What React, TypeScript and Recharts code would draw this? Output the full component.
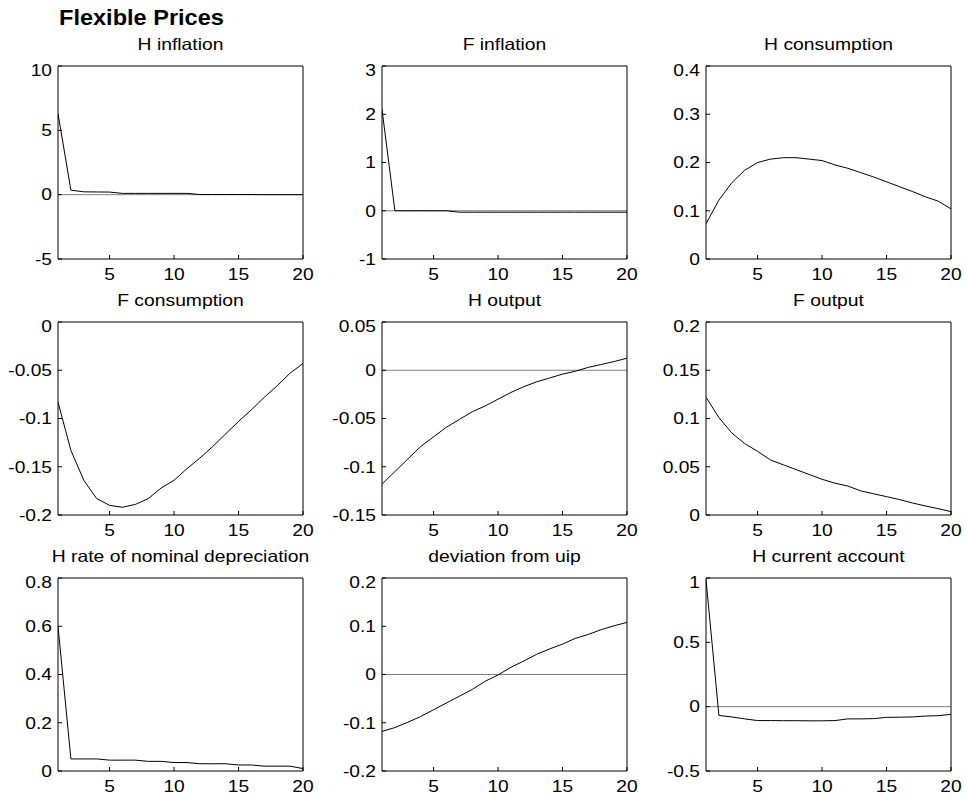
import { LineChart, Line, XAxis, YAxis, ReferenceLine } from "recharts";

// impulse responses, periods 1..20
const periods = [1, 2, 3, 4, 5, 6, 7, 8, 9, 10, 11, 12, 13, 14, 15, 16, 17, 18, 19, 20];
const xTicks = [5, 10, 15, 20];

const hInflation = [6.3, 0.35, 0.22, 0.21, 0.2, 0.1, 0.1, 0.1, 0.1, 0.1, 0.1, 0.01, 0.01, 0.01, 0.01, 0.01, 0, 0, 0, 0];
const fInflation = [2.1, 0, 0, 0, 0, 0, -0.03, -0.03, -0.03, -0.03, -0.03, -0.03, -0.03, -0.03, -0.03, -0.03, -0.03, -0.03, -0.03, -0.03];
const hConsumption = [0.073, 0.122, 0.158, 0.184, 0.2, 0.207, 0.21, 0.21, 0.207, 0.204, 0.195, 0.188, 0.179, 0.17, 0.16, 0.15, 0.14, 0.129, 0.12, 0.104];
const fConsumption = [-0.083, -0.133, -0.164, -0.183, -0.19, -0.192, -0.189, -0.183, -0.172, -0.164, -0.152, -0.141, -0.129, -0.116, -0.103, -0.091, -0.078, -0.066, -0.053, -0.043];
const hOutput = [-0.118, -0.105, -0.092, -0.079, -0.069, -0.059, -0.051, -0.043, -0.037, -0.03, -0.023, -0.017, -0.012, -0.008, -0.004, -0.001, 0.003, 0.006, 0.009, 0.0125];
const fOutput = [0.122, 0.101, 0.085, 0.074, 0.066, 0.057, 0.052, 0.047, 0.042, 0.037, 0.033, 0.03, 0.025, 0.022, 0.019, 0.016, 0.0125, 0.0094, 0.0066, 0.0035];
const hDepreciation = [0.6, 0.05, 0.05, 0.05, 0.045, 0.045, 0.045, 0.04, 0.04, 0.035, 0.035, 0.03, 0.03, 0.03, 0.025, 0.025, 0.02, 0.02, 0.02, 0.01];
const uipDeviation = [-0.118, -0.11, -0.099, -0.087, -0.073, -0.059, -0.045, -0.031, -0.014, -0.001, 0.015, 0.028, 0.042, 0.053, 0.063, 0.075, 0.083, 0.093, 0.101, 0.108];
const hCurrentAccount = [0.99, -0.068, -0.08, -0.095, -0.108, -0.108, -0.109, -0.109, -0.11, -0.11, -0.108, -0.095, -0.095, -0.093, -0.083, -0.082, -0.08, -0.073, -0.07, -0.06];

const titles = [
  "H inflation",
  "F inflation",
  "H consumption",
  "F consumption",
  "H output",
  "F output",
  "H rate of nominal depreciation",
  "deviation from uip",
  "H current account",
];
const series = [hInflation, fInflation, hConsumption, fConsumption, hOutput, fOutput, hDepreciation, uipDeviation, hCurrentAccount];
const yTicks = [
  [-5, 0, 5, 10],
  [-1, 0, 1, 2, 3],
  [0, 0.1, 0.2, 0.3, 0.4],
  [-0.2, -0.15, -0.1, -0.05, 0],
  [-0.15, -0.1, -0.05, 0, 0.05],
  [0, 0.05, 0.1, 0.15, 0.2],
  [0, 0.2, 0.4, 0.6, 0.8],
  [-0.2, -0.1, 0, 0.1, 0.2],
  [-0.5, 0, 0.5, 1],
];

const FONT = "'Liberation Sans', Arial, Helvetica, sans-serif";
const STRETCH = 1.2;
const TICK_FS = 16;

const BOX_W = 245;
const BOX_H = 193;
const colLeft = [58, 382, 706];
const rowTop = [66, 322, 578];

const Y_W = 56;
const TOP_M = 4;
const RIGHT_M = 16;
const X_H = 32;

function XTick({ x, y, payload }: any) {
  return (
    <g transform={`translate(${x},${y + 21}) scale(${STRETCH},1)`}>
      <text x={0} y={0} textAnchor="middle" fontSize={TICK_FS} fontFamily={FONT} fill="#000">
        {payload.value}
      </text>
    </g>
  );
}

function YTick({ x, y, payload }: any) {
  return (
    <g transform={`translate(${x},${y}) scale(${STRETCH},1)`}>
      <text x={0} y={0} dy="0.36em" textAnchor="end" fontSize={TICK_FS} fontFamily={FONT} fill="#000">
        {String(payload.value)}
      </text>
    </g>
  );
}

function Panel({ idx }: { idx: number }) {
  const values = series[idx];
  const ticks = yTicks[idx];
  const lo = ticks[0];
  const hi = ticks[ticks.length - 1];
  const data = periods.map((x, i) => ({ x, y: values[i] }));
  const left = colLeft[idx % 3];
  const top = rowTop[Math.floor(idx / 3)];

  return (
    <>
      <div
        style={{
          position: "absolute",
          left: left - Y_W,
          top: top - TOP_M - 1,
        }}
      >
        <LineChart
          width={Y_W + BOX_W + 1 + RIGHT_M}
          height={TOP_M + 1 + BOX_H + X_H}
          data={data}
          margin={{ top: TOP_M, right: RIGHT_M, bottom: 0, left: 0 }}
        >
          <XAxis
            dataKey="x"
            type="number"
            domain={[1, 20]}
            ticks={xTicks}
            allowDataOverflow
            height={X_H}
            stroke="#000"
            tickSize={-4}
            tickMargin={4}
            tick={(props: any) => <XTick {...props} />}
          />
          <XAxis
            xAxisId="top"
            orientation="top"
            dataKey="x"
            type="number"
            domain={[1, 20]}
            ticks={xTicks}
            allowDataOverflow
            height={1}
            stroke="#000"
            tickSize={-4}
            tick={false}
          />
          <YAxis
            type="number"
            domain={[lo, hi]}
            ticks={ticks}
            allowDataOverflow
            width={Y_W}
            stroke="#000"
            tickSize={-4}
            tickMargin={10}
            tick={(props: any) => <YTick {...props} />}
          />
          <YAxis
            yAxisId="right"
            orientation="right"
            type="number"
            domain={[lo, hi]}
            ticks={ticks}
            allowDataOverflow
            width={1}
            stroke="#000"
            tickSize={-4}
            tick={false}
          />
          {lo < 0 && hi > 0 && <ReferenceLine y={0} stroke="#808080" strokeWidth={1} />}
          <Line
            type="linear"
            dataKey="y"
            stroke="#000"
            strokeWidth={1}
            dot={false}
            isAnimationActive={false}
          />
        </LineChart>
      </div>
      <div
        style={{
          position: "absolute",
          left,
          top: top - 31.7,
          width: BOX_W,
          textAlign: "center",
          fontFamily: FONT,
          fontSize: 16.5,
          lineHeight: "20px",
          whiteSpace: "nowrap",
          transform: "scaleX(1.17)",
          color: "#000",
        }}
      >
        {titles[idx]}
      </div>
    </>
  );
}

export default function App() {
  return (
    <div
      style={{
        position: "absolute",
        left: 0,
        top: 0,
        width: 966,
        height: 803,
        background: "#fff",
        overflow: "hidden",
      }}
    >
      {titles.map((_, i) => (
        <Panel key={i} idx={i} />
      ))}
      <div
        style={{
          position: "absolute",
          left: 59,
          top: 5.4,
          fontFamily: FONT,
          fontWeight: "bold",
          fontSize: 22,
          lineHeight: "26px",
          whiteSpace: "nowrap",
          transform: "scaleX(1.07)",
          transformOrigin: "left",
          color: "#000",
        }}
      >
        Flexible Prices
      </div>
    </div>
  );
}
